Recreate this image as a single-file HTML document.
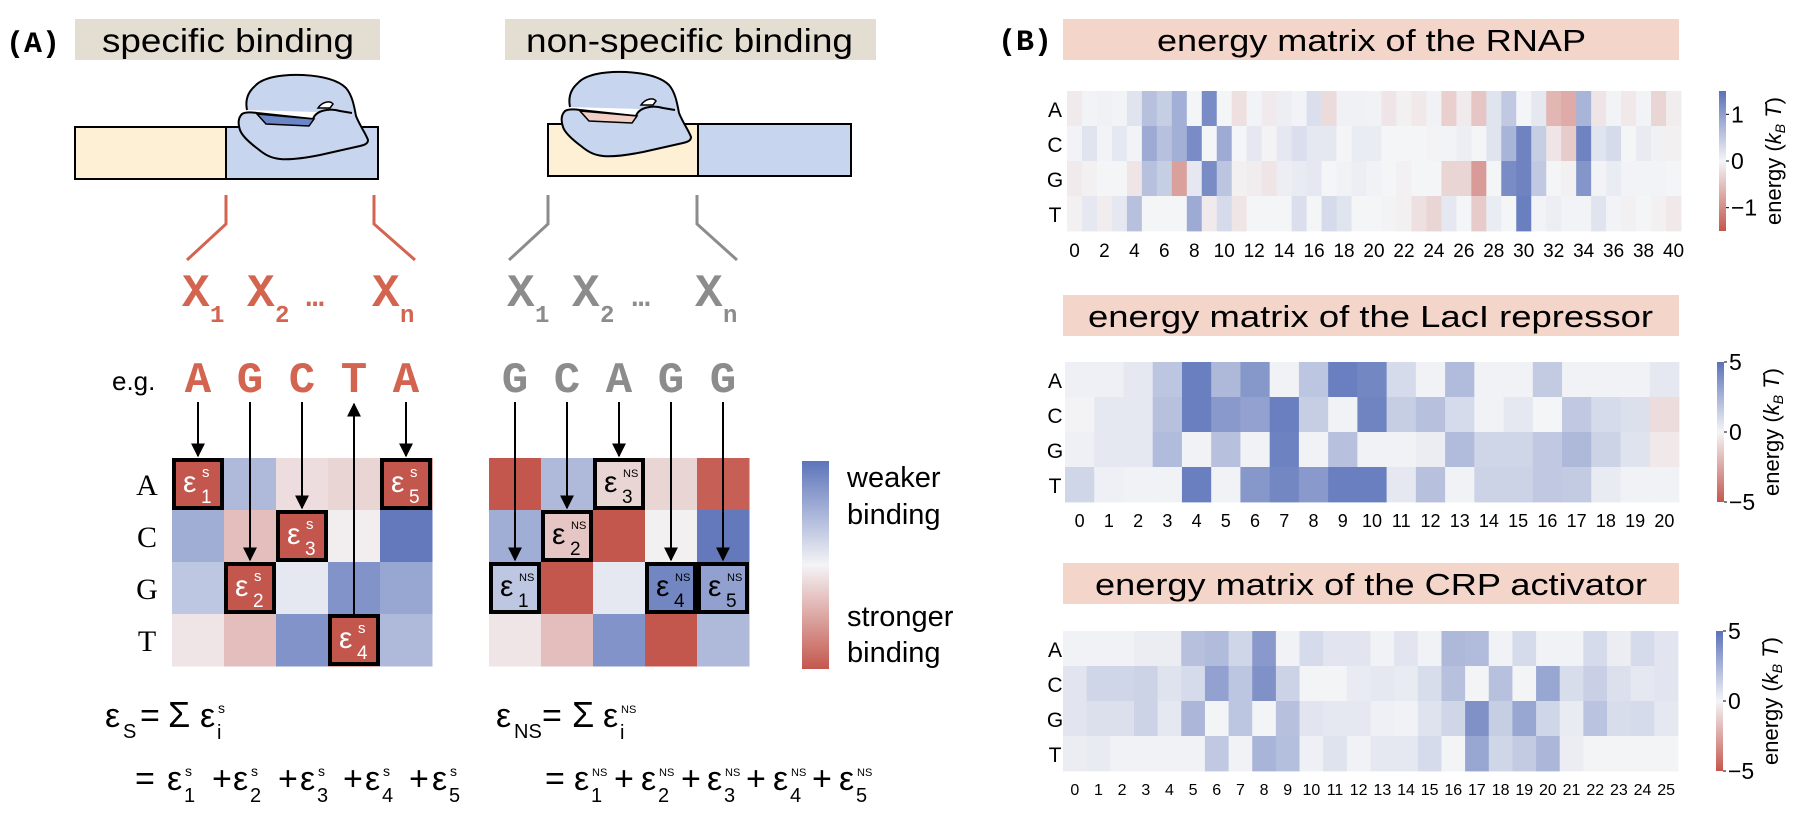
<!DOCTYPE html>
<html><head><meta charset="utf-8"><style>
html,body{margin:0;padding:0;background:#fff}
svg{display:block;font-family:"Liberation Sans",sans-serif}
</style></head><body>
<svg id="fig" width="1806" height="816" viewBox="0 0 1806 816" xmlns="http://www.w3.org/2000/svg">
<defs>
<marker id="ah" viewBox="0 0 10 10" refX="9" refY="5" markerWidth="14" markerHeight="14" markerUnits="userSpaceOnUse" orient="auto"><path d="M0,0 L10,5 L0,10 z" fill="#000"/></marker>
<linearGradient id="cbA" x1="0" y1="0" x2="0" y2="1"><stop offset="0" stop-color="#5c74ba"/><stop offset="0.5" stop-color="#f4f4f6"/><stop offset="1" stop-color="#c4574d"/></linearGradient>
</defs>
<!-- Panel A -->
<text x="6" y="52" font-family="Liberation Mono, monospace" font-weight="bold" font-size="30">(A)</text>
<rect x="75" y="19" width="305" height="41" fill="#e3ddd2"/>
<text x="102" y="52" font-size="33" textLength="252" lengthAdjust="spacingAndGlyphs">specific binding</text>
<rect x="505" y="19" width="371" height="41" fill="#e3ddd2"/>
<text x="526" y="52" font-size="33" textLength="327" lengthAdjust="spacingAndGlyphs">non-specific binding</text>

<g>
<rect x="75" y="127" width="151" height="52" fill="#fef0d4" stroke="#000" stroke-width="2"/>
<rect x="226" y="127" width="152" height="52" fill="#c8d5ee" stroke="#000" stroke-width="2"/>
</g>
<g>
<rect x="548" y="124" width="150" height="52" fill="#fef0d4" stroke="#000" stroke-width="2"/>
<rect x="698" y="124" width="153" height="52" fill="#c8d5ee" stroke="#000" stroke-width="2"/>
</g>
<g id="protein">
<path d="M247,110 C245,100 248,92 255,86 C262,78 280,74 303,75 C322,76 338,80 346,88 C352,95 354,105 356,116 C360,126 366,134 368,140 C368,144 364,145 360,146 L320,155 C305,158 290,160 280,159 C270,158 264,154 258,149 C250,143 242,136 240,130 C238,124 238,118 242,114 C245,112 250,112 257,113 L313,119 C316,110 330,108 340,111 L352,113" fill="#c8d5ee" stroke="#000" stroke-width="2" stroke-linejoin="round"/>
<path d="M257,114 L314,119 L309,126 L266,124 Z" fill="#6a86c6" stroke="#000" stroke-width="1.5"/>
<path d="M318,108 C322,102 330,100 333,104 L330,108 Z" fill="#fff" stroke="#000" stroke-width="1.5"/>
</g>
<g transform="translate(323,-3)">
<path d="M247,110 C245,100 248,92 255,86 C262,78 280,74 303,75 C322,76 338,80 346,88 C352,95 354,105 356,116 C360,126 366,134 368,140 C368,144 364,145 360,146 L320,155 C305,158 290,160 280,159 C270,158 264,154 258,149 C250,143 242,136 240,130 C238,124 238,118 242,114 C245,112 250,112 257,113 L313,119 C316,110 330,108 340,111 L352,113" fill="#c8d5ee" stroke="#000" stroke-width="2" stroke-linejoin="round"/>
<path d="M257,114 L314,119 L309,126 L266,124 Z" fill="#f2d0c6" stroke="#000" stroke-width="1.5"/>
<path d="M318,108 C322,102 330,100 333,104 L330,108 Z" fill="#fff" stroke="#000" stroke-width="1.5"/>
</g>

<polyline points="226,195 226,224 187,260" fill="none" stroke="#d36450" stroke-width="3"/>
<polyline points="374,195 374,224 415,260" fill="none" stroke="#d36450" stroke-width="3"/>
<polyline points="548,195 548,224 509,260" fill="none" stroke="#8c8c8c" stroke-width="3"/>
<polyline points="697,195 697,224 737,260" fill="none" stroke="#8c8c8c" stroke-width="3"/>

<g font-family="Liberation Mono, monospace" font-weight="bold" fill="#d36450">
<text x="182" y="306" font-size="46">X</text><text x="210" y="322" font-size="24">1</text>
<text x="247" y="306" font-size="46">X</text><text x="275" y="322" font-size="24">2</text>
<text x="306" y="306" font-size="30">…</text>
<text x="372" y="306" font-size="46">X</text><text x="400" y="322" font-size="24">n</text>
</g>
<g font-family="Liberation Mono, monospace" font-weight="bold" fill="#8c8c8c">
<text x="507" y="306" font-size="46">X</text><text x="535" y="322" font-size="24">1</text>
<text x="572" y="306" font-size="46">X</text><text x="600" y="322" font-size="24">2</text>
<text x="632" y="306" font-size="30">…</text>
<text x="695" y="306" font-size="46">X</text><text x="723" y="322" font-size="24">n</text>
</g>
<text x="112" y="390" font-size="26">e.g.</text>
<g id="seqs" font-family="Liberation Mono, monospace" font-weight="bold" font-size="44" text-anchor="middle"></g>
<g id="matA"></g>
<g id="matB"></g>
<g id="arrows"></g>
<g id="rowlabelsA" font-family="Liberation Serif, serif" font-size="30" text-anchor="middle"></g>

<rect x="802" y="461" width="27" height="208" fill="url(#cbA)"/>
<g font-size="29">
<text x="847" y="487">weaker</text><text x="847" y="524">binding</text>
<text x="847" y="626">stronger</text><text x="847" y="662">binding</text>
</g>
<g id="formulas"></g>

<!-- Panel B -->
<text x="998" y="50" font-family="Liberation Mono, monospace" font-weight="bold" font-size="30">(B)</text>
<g id="panelB"></g>
</svg>
<script>
// ---- Panel A data (normalized energies, + = weaker, - = stronger) ----
const specA = [-1, 0.45, -0.15, -0.2, -1];
const specC = [0.55, -0.35, -1, -0.05, 0.95];
const specG = [0.35, -1, 0.1, 0.75, 0.6];
const specT = [-0.1, -0.35, 0.75, -1, 0.45];
const nsA = [-1, 0.45, -0.2, -0.2, -0.95];
const nsC = [0.55, -0.3, -1, -0.03, 0.95];
const nsG = [0.35, -1, 0.1, 0.85, 0.65];
const nsT = [-0.1, -0.35, 0.75, -1, 0.45];
const specSeq = ["A","G","C","T","A"];
const nsSeq = ["G","C","A","G","G"];
const bases = ["A","C","G","T"];

// ---- Panel B data ----
const rnapA = [-0.1,0.02,0.05,0.02,0.2,0.6,0.45,0.8,0,1.2,0,-0.2,0.02,-0.1,0.08,0.02,0.25,-0.25,0.05,0.05,0.03,-0.15,-0.05,-0.12,0.03,-0.35,-0.1,-0.45,0.2,0.5,0,0.15,-0.6,-0.7,0.75,-0.15,0.02,-0.12,0.02,-0.3,-0.08];
const rnapC = [0.02,0.2,0.02,0.15,0.02,0.85,0.6,0.8,1.2,0,0.85,0,0.15,-0.03,0.15,0.25,0.15,0.15,0,0.1,0.1,0,0,0,-0.03,0.02,0.08,0,0.2,0.75,1.3,0.45,-0.15,-0.4,1.3,0.2,0.3,0,0.12,0.05,-0.05];
const rnapG = [-0.1,-0.05,0,0,-0.15,0.6,0.45,-0.8,0.15,1.2,0.55,-0.05,-0.08,-0.15,0.08,0.12,0.15,0,0.03,0.08,0.03,0,-0.05,0,0,-0.3,-0.3,-0.85,0,1.2,1.3,0.5,0,-0.05,1.1,0.02,0.1,0.02,0.02,0.02,0];
const rnapT = [-0.05,0.15,-0.08,0.15,0.6,0,0,0,0.85,-0.1,0.3,-0.15,0,0,0,0.25,0,0.3,0.2,0,0,-0.03,-0.05,-0.2,-0.3,0.15,0,-0.4,0.1,0,1.35,0.02,0.08,0.02,0.02,0.2,0.02,-0.05,0,-0.05,-0.12];
const rnapTicks = ["0","2","4","6","8","10","12","14","16","18","20","22","24","26","28","30","32","34","36","38","40"];
const rnapCbTicks = [1, 0, -1];

const laciA = [0.2,0.2,0.5,1.8,4.5,2.3,3.6,0.1,1.8,4.5,4.2,1.0,0.1,2.2,0.1,0.1,1.6,0.1,0.1,0.1,0.5];
const laciC = [-0.1,0.5,0.5,2.0,4.5,3.5,3.2,4.5,1.5,0.1,4.3,1.5,2.0,1.0,0.1,0.5,0,1.7,1.0,0.8,-0.8];
const laciG = [0.2,0.5,0.5,2.2,0.1,2.0,0.1,4.4,0.1,2.0,0.1,0.1,0.3,2.2,1.2,1.2,1.7,2.3,1.3,0.7,-0.4];
const laciT = [1.2,0.2,0.1,0.1,4.5,0.1,3.6,4.2,3.5,4.5,4.5,0.5,2.0,0.1,1.3,1.3,1.7,1.6,0.4,0.1,0.1];
const laciTicks = ["0","1","2","3","4","5","6","7","8","9","10","11","12","13","14","15","16","17","18","19","20"];

const crpA = [0.1,0.1,0.1,0.3,0.3,2.0,2.2,1.2,3.5,0.1,1.0,0.6,0.6,0.1,0.6,0.1,2.3,2.2,0.1,1.0,0.1,0.1,1.0,0.3,1.0,0.6];
const crpC = [0.6,1.2,1.2,1.3,0.7,1.0,3.2,1.8,3.8,1.3,0.05,0.05,0.4,0.5,0.4,0.9,2.0,0.05,2.0,0.05,3.0,0.9,1.4,0.8,0.5,0.6];
const crpG = [0.6,0.8,0.8,1.3,0.5,2.4,0.05,1.8,0.05,2.0,0.6,0.5,0.5,0.2,0.1,0.7,1.2,3.8,1.5,3.0,1.2,0.4,1.9,0.9,1.0,0.5];
const crpT = [0.3,0.4,0.1,0.1,0.1,0.1,1.7,0.1,2.5,2.1,0.2,0.7,0.1,0.5,0.5,1.0,0.05,3.0,1.2,1.6,2.4,0.3,0.05,0.05,0.05,0.05];
const crpTicks = ["0","1","2","3","4","5","6","7","8","9","10","11","12","13","14","15","16","17","18","19","20","21","22","23","24","25"];
const fiveTicks = [5, 0, -5];

const NS = "http://www.w3.org/2000/svg";
function mk(tag, attrs, parent){
  const e = document.createElementNS(NS, tag);
  for (const k in attrs) e.setAttribute(k, attrs[k]);
  if (parent) parent.appendChild(e);
  return e;
}
function color(v, vmax){
  let t = Math.max(-1, Math.min(1, v / vmax));
  const w = [244,245,247], b = [91,114,185], r = [196,87,77];
  const c = t >= 0 ? b : r; t = Math.abs(t);
  const m = w.map((x,i)=>Math.round(x + (c[i]-x)*t));
  return `rgb(${m[0]},${m[1]},${m[2]})`;
}

// ----- Panel A matrices -----
const cell = 52, my0 = 458;
function drawMatrix(gid, x0, rows, seq, name, txtColor, supTxt){
  const g = document.getElementById(gid);
  
  
  rows.forEach((row, r) => {
    row.forEach((v, c) => {
      const rc = mk('rect', {x: x0 + c*cell, y: my0 + r*cell, width: cell+0.5, height: cell+0.5, fill: color(v, 1)}, g);
      
      
    });
  });
  seq.forEach((b, c) => {
    const r = bases.indexOf(b);
    const x = x0 + c*cell, y = my0 + r*cell;
    const hb = mk('rect', {x: x+2, y: y+2, width: cell-4, height: cell-4, fill: 'none', stroke: '#000', 'stroke-width': 4}, g);
    
    
    const t = mk('text', {x: x+11, y: y+34, 'font-size': 30, fill: txtColor}, g);
    t.textContent = 'ε';
    
    
    const s = mk('text', {x: x+30, y: y+19, 'font-size': supTxt === 's' ? 15 : 11, fill: txtColor}, g);
    s.textContent = supTxt;
    
    
    const sb = mk('text', {x: x+29, y: y+45, 'font-size': 19, fill: txtColor}, g);
    sb.textContent = String(c+1);
    
    
  });
}
drawMatrix('matA', 172, [specA, specC, specG, specT], specSeq, 'specific-energy-matrix', '#fff', 's');
drawMatrix('matB', 489, [nsA, nsC, nsG, nsT], nsSeq, 'nonspecific-energy-matrix', '#000', 'NS');

const rl = document.getElementById('rowlabelsA');
bases.forEach((b, r) => {
  const t = mk('text', {x: 147, y: my0 + r*cell + 37}, rl);
  t.textContent = b;
  
  
});

const sg = document.getElementById('seqs');
specSeq.forEach((b, c) => {
  const t = mk('text', {x: 198 + c*cell, y: 392, fill: '#d36450'}, sg);
  t.textContent = b;
  
  
});
nsSeq.forEach((b, c) => {
  const t = mk('text', {x: 515 + c*cell, y: 392, fill: '#8c8c8c'}, sg);
  t.textContent = b;
  
  
});

const ag = document.getElementById('arrows');
function arrows(x0, seq){
  seq.forEach((b, c) => {
    const r = bases.indexOf(b);
    const x = x0 + 26 + c*cell;
    const tgt = my0 + r*cell - 2;
    let ln;
    if (b === 'T' && x0 === 172) {
      ln = mk('line', {x1: x, y1: my0 + 3*cell + 2, x2: x, y2: 404, stroke: '#000', 'stroke-width': 2, 'marker-end': 'url(#ah)'}, ag);
    } else {
      ln = mk('line', {x1: x, y1: 402, x2: x, y2: tgt, stroke: '#000', 'stroke-width': 2, 'marker-end': 'url(#ah)'}, ag);
    }
    
    
  });
}
arrows(172, specSeq);
arrows(489, nsSeq);

// ----- Formulas -----
const fg = document.getElementById('formulas');


function txt(x, y, s, size){
  const t = mk('text', {x: x, y: y, 'font-size': size}, fg);
  t.textContent = s;
  return t;
}
function eps(x, y, sup, sub){
  txt(x, y, 'ε', 34);
  if (sup) txt(x+18, y-14, sup, sup === 's' ? 14 : 11);
  if (sub) txt(x+17, y+12, sub, 20);
}
// left
eps(105, 727, null, null); txt(123, 738, 'S', 20);
txt(140, 727, '=', 34); txt(168, 727, 'Σ', 36); eps(200, 727, 's', 'i');
txt(135, 790, '=', 34);
[167, 233, 300, 365, 432].forEach((x, i) => eps(x, 790, 's', String(i+1)));
[212, 278, 343, 409].forEach(x => txt(x, 790, '+', 34));
// right
eps(496, 727, null, null); txt(514, 738, 'NS', 20);
txt(542, 727, '=', 34); txt(572, 727, 'Σ', 36); eps(603, 727, 'NS', 'i');
txt(545, 790, '=', 34);
[574, 641, 707, 773, 839].forEach((x, i) => eps(x, 790, 'NS', String(i+1)));
[614, 681, 746, 812].forEach(x => txt(x, 790, '+', 34));

// ----- Panel B heatmaps -----
const pb = document.getElementById('panelB');
function heatmap(o){
  const g = mk('g', {}, pb);
  
  
  const box = mk('rect', {x: 1063, y: o.boxY, width: 616, height: 41, fill: '#f3d5ca'}, g);
  
  
  const tt = mk('text', {x: o.titleX, y: o.boxY + 32, 'font-size': 31, textLength: o.titleW, lengthAdjust: 'spacingAndGlyphs'}, g);
  tt.textContent = o.title;
  
  
  const rows = o.rows, n = rows[0].length;
  const cw = (o.x1 - o.x0) / n, rh = 35;
  const xs = i => o.x0 + i*cw;
  const ys = r => o.y0 + r*rh;
  rows.forEach((row, r) => {
    row.forEach((v, i) => {
      const c = mk('rect', {x: xs(i), y: ys(r), width: cw + 0.4, height: rh + 0.4, fill: color(v, o.vmax)}, g);
      
      
    });
    const lab = mk('text', {x: 1055, y: ys(r) + 26, 'font-size': 21, 'text-anchor': 'middle'}, g);
    lab.textContent = bases[r];
    
    
  });
  o.ticks.forEach((t, k) => {
    const i = parseInt(t, 10);
    const tx = mk('text', {x: xs(i) + cw/2, y: o.y0 + 4*rh + o.tickDy, 'font-size': o.tickSize, 'text-anchor': 'middle'}, g);
    tx.textContent = t;
    
    
  });
  // colorbar
  const gid = 'cb' + o.y0;
  const lg = mk('linearGradient', {id: gid, x1: 0, y1: 0, x2: 0, y2: 1}, document.querySelector('defs'));
  mk('stop', {offset: 0, 'stop-color': color(o.vmax, o.vmax)}, lg);
  mk('stop', {offset: 0.5, 'stop-color': color(0, o.vmax)}, lg);
  mk('stop', {offset: 1, 'stop-color': color(-o.vmax, o.vmax)}, lg);
  const cb = mk('rect', {x: o.cbX, y: o.y0, width: 7, height: 4*rh, fill: 'url(#' + gid + ')'}, g);
  
  
  const cy = v => o.y0 + 2*rh - v / o.cbMax * 2*rh;
  o.cbTicks.forEach(v => {
    mk('line', {x1: o.cbX + 7, x2: o.cbX + 10, y1: cy(v), y2: cy(v), stroke: '#000', 'stroke-width': 1}, g);
    const tl = mk('text', {x: o.cbX + 12, y: cy(v) + 8, 'font-size': 23}, g);
    tl.textContent = v < 0 ? '−' + Math.abs(v) : String(v);
    
    
  });
  const ex = o.cbX + 62, ey = o.y0 + 2*rh;
  const el = mk('text', {x: ex, y: ey, 'font-size': 22, 'text-anchor': 'middle', transform: `rotate(-90 ${ex} ${ey})`}, g);
  el.innerHTML = 'energy (<tspan font-style="italic">k</tspan><tspan font-style="italic" font-size="14" dy="4">B</tspan><tspan dy="-4"> </tspan><tspan font-style="italic">T</tspan>)';
  
  
}
heatmap({name: 'rnap-heatmap', title: 'energy matrix of the RNAP', boxY: 19, titleX: 1157, titleW: 429,
  rows: [rnapA, rnapC, rnapG, rnapT], x0: 1067, x1: 1681, y0: 91, vmax: 1.5, ticks: rnapTicks, tickSize: 19, tickDy: 26,
  cbX: 1719, cbMax: 1.5, cbTicks: rnapCbTicks});
heatmap({name: 'laci-heatmap', title: 'energy matrix of the LacI repressor', boxY: 295, titleX: 1088, titleW: 565,
  rows: [laciA, laciC, laciG, laciT], x0: 1065, x1: 1679, y0: 362, vmax: 5, ticks: laciTicks, tickSize: 18, tickDy: 25,
  cbX: 1717, cbMax: 5, cbTicks: fiveTicks});
heatmap({name: 'crp-heatmap', title: 'energy matrix of the CRP activator', boxY: 563, titleX: 1095, titleW: 552,
  rows: [crpA, crpC, crpG, crpT], x0: 1063, x1: 1678, y0: 631, vmax: 5, ticks: crpTicks, tickSize: 16, tickDy: 24,
  cbX: 1716, cbMax: 5, cbTicks: fiveTicks});
</script>
</body></html>
